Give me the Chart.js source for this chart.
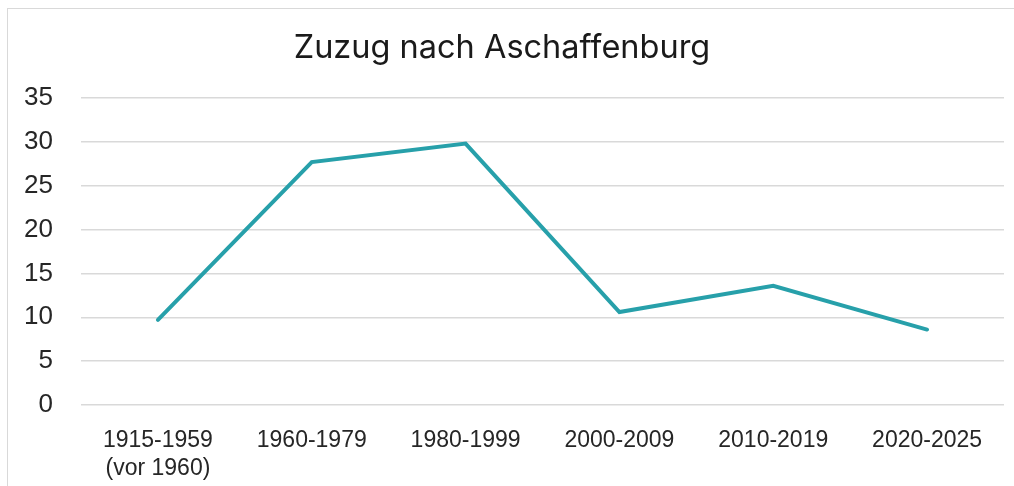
<!DOCTYPE html>
<html><head><meta charset="utf-8">
<script src="https://cdn.jsdelivr.net/npm/chart.js@4/dist/chart.umd.min.js"></script>
<style>
html,body{margin:0;padding:0;background:#fff;width:1014px;height:486px;overflow:hidden;}
#frame{position:absolute;left:7px;top:8px;width:1020px;height:500px;border:1.5px solid #d9d9d9;box-sizing:border-box;}
#wrap{position:absolute;left:0;top:0;width:1014px;height:486px;}
</style></head>
<body>
<div id="frame"></div>
<div id="wrap"><canvas id="c" width="1014" height="486"></canvas></div>
<script>
const categories = [["1915-1959","(vor 1960)"],"1960-1979","1980-1999","2000-2009","2010-2019","2020-2025"];
const zuzug = [9.7, 27.7, 29.8, 10.6, 13.6, 8.6];
const yTicks = [0,5,10,15,20,25,30,35];
const FONT = "'Liberation Sans', Arial, sans-serif";
const TITLE_FONT = "Inter, 'Liberation Sans', sans-serif";

new Chart(document.getElementById('c'), {
  type: 'line',
  data: { labels: categories, datasets: [{ data: zuzug, borderColor: '#27a0aa', borderWidth: 4, pointRadius: 0, tension: 0, borderCapStyle: 'round', borderJoinStyle: 'miter', fill: false }] },
  options: {
    responsive: false, animation: false,
    layout: { padding: { top: 9, right: 10, left: 0, bottom: 0 } },
    plugins: {
      legend: { display: false }, tooltip: { enabled: false },
      title: { display: true, text: 'Zuzug nach Aschaffenburg', color: '#1a1a1a', font: { family: TITLE_FONT, size: 32.5, weight: 'normal' }, padding: { top: 20, bottom: 30 } }
    },
    scales: {
      x: {
        offset: true,
        grid: { display: false },
        border: { display: false },
        ticks: { color: '#262626', font: { family: FONT, size: 23 }, padding: 14, maxRotation: 0, autoSkip: false },
        afterFit: s => { s.height = 81; }
      },
      y: {
        min: 0, max: 35,
        afterBuildTicks: s => { s.ticks = yTicks.map(v => ({ value: v })); },
        grid: { color: '#d9d9d9', lineWidth: 1.5, drawTicks: false },
        border: { display: false },
        ticks: { color: '#262626', font: { family: FONT, size: 26 }, padding: 28 },
        afterFit: s => { s.width = 81; }
      }
    }
  }
});
</script>
</body></html>
